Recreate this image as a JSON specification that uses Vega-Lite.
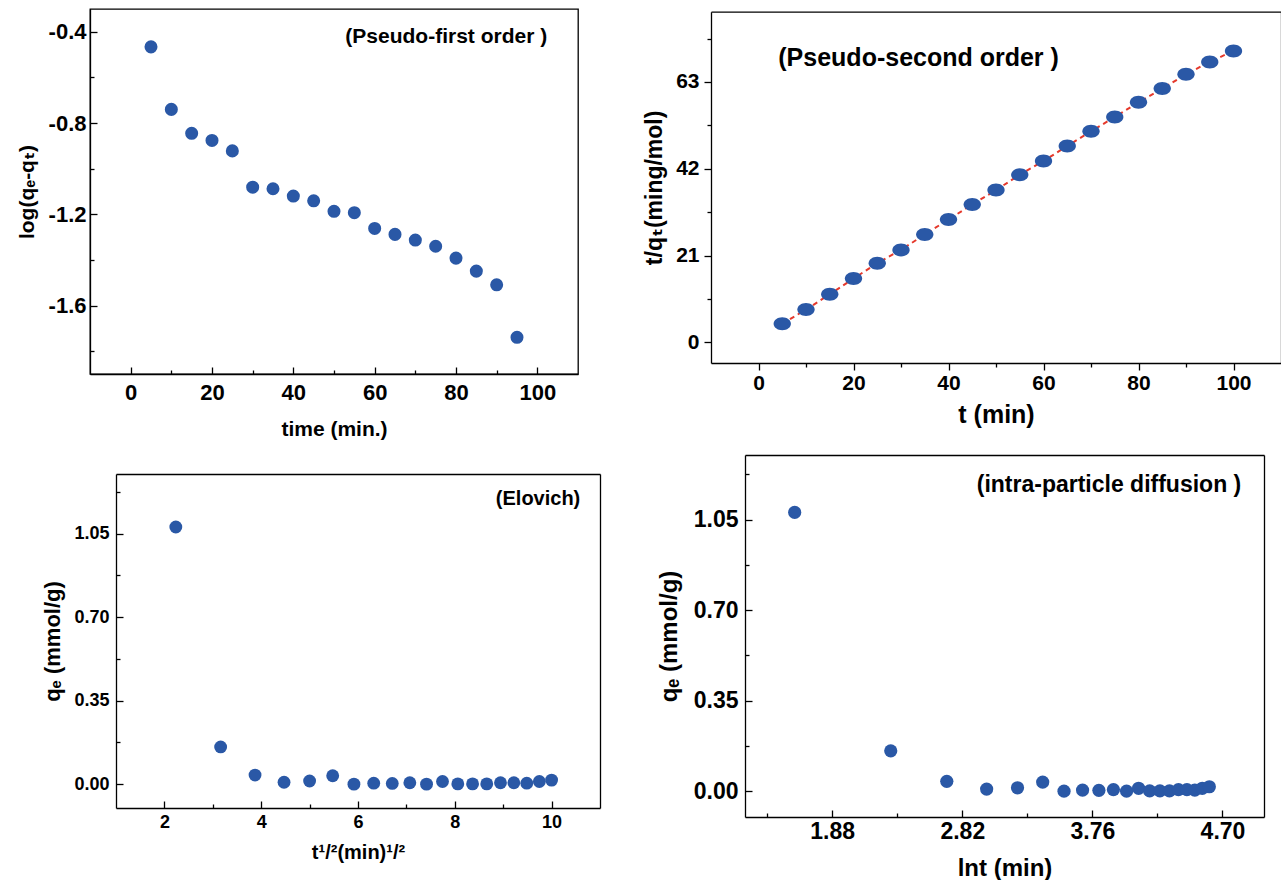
{
  "$schema": "https://vega.github.io/schema/vega-lite/v6.json",
  "padding": {"left": 0, "top": 8, "right": 0, "bottom": 0},
  "background": "white",
  "columns": 4,
  "align": "each",
  "bounds": "flush",
  "spacing": {"row": 81, "column": 0},
  "datasets": {
    "pfo": [
      {"t": 5, "v": -0.466}, {"t": 10, "v": -0.740}, {"t": 15, "v": -0.845}, {"t": 20, "v": -0.876},
      {"t": 25, "v": -0.922}, {"t": 30, "v": -1.081}, {"t": 35, "v": -1.088}, {"t": 40, "v": -1.120},
      {"t": 45, "v": -1.141}, {"t": 50, "v": -1.187}, {"t": 55, "v": -1.193}, {"t": 60, "v": -1.262},
      {"t": 65, "v": -1.288}, {"t": 70, "v": -1.313}, {"t": 75, "v": -1.340}, {"t": 80, "v": -1.392},
      {"t": 85, "v": -1.449}, {"t": 90, "v": -1.509}, {"t": 95, "v": -1.739}
    ],
    "pso": [
      {"t": 5, "v": 4.52}, {"t": 10, "v": 7.92}, {"t": 15, "v": 11.63}, {"t": 20, "v": 15.43},
      {"t": 25, "v": 19.14}, {"t": 30, "v": 22.37}, {"t": 35, "v": 26.09}, {"t": 40, "v": 29.73},
      {"t": 45, "v": 33.36}, {"t": 50, "v": 36.83}, {"t": 55, "v": 40.55}, {"t": 60, "v": 43.86},
      {"t": 65, "v": 47.50}, {"t": 70, "v": 51.05}, {"t": 75, "v": 54.52}, {"t": 80, "v": 58.08},
      {"t": 85, "v": 61.39}, {"t": 90, "v": 64.86}, {"t": 95, "v": 67.85}, {"t": 100, "v": 70.52}
    ],
    "elo": [
      {"x": 2.236, "q": 1.078}, {"x": 3.162, "q": 0.156}, {"x": 3.873, "q": 0.038}, {"x": 4.472, "q": 0.008},
      {"x": 5.000, "q": 0.013}, {"x": 5.477, "q": 0.035}, {"x": 5.916, "q": 0.000}, {"x": 6.325, "q": 0.004},
      {"x": 6.708, "q": 0.003}, {"x": 7.071, "q": 0.006}, {"x": 7.416, "q": 0.000}, {"x": 7.746, "q": 0.011},
      {"x": 8.062, "q": 0.001}, {"x": 8.367, "q": 0.001}, {"x": 8.660, "q": 0.001}, {"x": 8.944, "q": 0.006},
      {"x": 9.220, "q": 0.006}, {"x": 9.487, "q": 0.004}, {"x": 9.747, "q": 0.011}, {"x": 10.000, "q": 0.017}
    ],
    "ipd": [
      {"x": 1.609, "q": 1.078}, {"x": 2.303, "q": 0.156}, {"x": 2.708, "q": 0.038}, {"x": 2.996, "q": 0.008},
      {"x": 3.219, "q": 0.013}, {"x": 3.401, "q": 0.035}, {"x": 3.555, "q": 0.000}, {"x": 3.689, "q": 0.004},
      {"x": 3.807, "q": 0.003}, {"x": 3.912, "q": 0.006}, {"x": 4.007, "q": 0.000}, {"x": 4.094, "q": 0.011},
      {"x": 4.174, "q": 0.001}, {"x": 4.248, "q": 0.001}, {"x": 4.317, "q": 0.001}, {"x": 4.382, "q": 0.006},
      {"x": 4.443, "q": 0.006}, {"x": 4.500, "q": 0.004}, {"x": 4.554, "q": 0.011}, {"x": 4.605, "q": 0.017}
    ]
  },
  "config": {
    "view": {"stroke": "black", "strokeWidth": 1.3},
    "font": "Liberation Sans, Arial, sans-serif",
    "axis": {
      "grid": false,
      "domainColor": "black",
      "domainWidth": 1.3,
      "tickColor": "black",
      "tickWidth": 1.3,
      "labelFont": "Liberation Sans, Arial, sans-serif",
      "labelFontWeight": "bold",
      "labelColor": "black",
      "labelFlush": false,
      "labelOverlap": false,
      "titleFont": "Liberation Sans, DejaVu Sans, Arial, sans-serif",
      "titleFontWeight": "bold",
      "titleColor": "black"
    },
    "text": {"font": "Liberation Sans, Arial, sans-serif", "fontWeight": "bold", "color": "black"}
  },
  "concat": [
    {"width": 90, "height": 1, "data": {"values": []}, "mark": "point", "view": {"stroke": null}},
    {
      "width": 488,
      "height": 365,
      "layer": [
        {
          "data": {"name": "pfo"},
          "mark": {"type": "point", "filled": true, "opacity": 1, "size": 170, "color": "#2a58a6"},
          "encoding": {
            "x": {
              "field": "t", "type": "quantitative",
              "scale": {"domain": [-10, 110], "nice": false, "zero": false},
              "axis": {
                "title": "time (min.)", "titleFontSize": 21, "titlePadding": 12,
                "values": [0, 10, 20, 30, 40, 50, 60, 70, 80, 90, 100],
                "labelExpr": "datum.value % 20 === 0 ? datum.label : ''",
                "labelFontSize": 22, "labelPadding": 15,
                "tickSize": {"condition": {"test": "datum.value % 20 === 0", "value": -7}, "value": -4}
              }
            },
            "y": {
              "field": "v", "type": "quantitative",
              "scale": {"domain": [-1.9, -0.3], "nice": false, "zero": false},
              "axis": {
                "title": "log(qₑ-qₜ)", "titleFontSize": 21, "titlePadding": 11,
                "values": [-1.8, -1.6, -1.4, -1.2, -1.0, -0.8, -0.6, -0.4],
                "labelExpr": "indexof([-1.6, -1.2, -0.8, -0.4], datum.value) >= 0 ? replace(format(datum.value, '.1f'), '\u2212', '-') : ''",
                "labelFontSize": 22, "labelPadding": 11,
                "tickSize": {"condition": {"test": "indexof([-1.6, -1.2, -0.8, -0.4], datum.value) >= 0", "value": -7}, "value": -4}
              }
            }
          }
        },
        {
          "data": {"values": [{}]},
          "mark": {"type": "text", "fontSize": 21, "align": "center", "baseline": "middle"},
          "encoding": {
            "x": {"datum": 77.6, "type": "quantitative"},
            "y": {"datum": -0.422, "type": "quantitative"},
            "text": {"value": "(Pseudo-first order )"}
          }
        }
      ]
    },
    {"width": 111, "height": 1, "data": {"values": []}, "mark": "point", "view": {"stroke": null}},
    {
      "width": 570,
      "height": 354,
      "view": {"stroke": null},
      "resolve": {"axis": {"x": "independent", "y": "independent"}},
      "layer": [
        {
          "data": {"name": "pso"},
          "mark": {"type": "line", "color": "#e5392c", "strokeWidth": 2, "strokeDash": [5, 4]},
          "encoding": {
            "x": {
              "field": "t", "type": "quantitative",
              "scale": {"domain": [-10, 110], "nice": false, "zero": false},
              "axis": {
                "title": "t (min)", "titleFontSize": 25, "titlePadding": 9,
                "values": [0, 10, 20, 30, 40, 50, 60, 70, 80, 90, 100],
                "labelExpr": "datum.value % 20 === 0 ? datum.label : ''",
                "labelFontSize": 21, "labelPadding": 2,
                "tickSize": {"condition": {"test": "datum.value % 20 === 0", "value": 7}, "value": 4}
              }
            },
            "y": {
              "field": "v", "type": "quantitative",
              "scale": {"domain": [-5, 80], "range": [354, 2.7], "nice": false, "zero": false},
              "axis": {
                "title": "t/qₜ(ming/mol)", "titleFontSize": 23, "titlePadding": 9,
                "values": [0, 10.5, 21, 31.5, 42, 52.5, 63, 73.5],
                "labelExpr": "indexof([0, 21, 42, 63], datum.value) >= 0 ? datum.label : ''",
                "labelFontSize": 21, "labelPadding": 5,
                "tickSize": {"condition": {"test": "indexof([0, 21, 42, 63], datum.value) >= 0", "value": 7}, "value": 4}
              }
            }
          }
        },
        {
          "data": {"name": "pso"},
          "mark": {"type": "point", "filled": true, "opacity": 1, "size": 300, "color": "#2a58a6",
                   "shape": "M-1,0A1,0.75 0 1,0 1,0A1,0.75 0 1,0 -1,0Z"},
          "encoding": {
            "x": {"field": "t", "type": "quantitative", "axis": {"orient": "top", "offset": -2.7, "labels": false, "ticks": false, "title": null}},
            "y": {"field": "v", "type": "quantitative", "axis": {"orient": "right", "labels": false, "ticks": false, "title": null}}
          }
        },
        {
          "data": {"values": [{}]},
          "mark": {"type": "text", "fontSize": 25, "align": "center", "baseline": "middle"},
          "encoding": {
            "x": {"datum": 33.7, "type": "quantitative", "axis": null},
            "y": {"datum": 68.8, "type": "quantitative", "axis": null},
            "text": {"value": "(Pseudo-second order )"}
          }
        }
      ]
    },
    {"width": 90, "height": 1, "data": {"values": []}, "mark": "point", "view": {"stroke": null}},
    {
      "width": 510,
      "height": 353,
      "view": {"stroke": null},
      "resolve": {"axis": {"x": "independent", "y": "independent"}},
      "layer": [
        {
          "data": {"name": "elo"},
          "mark": {"type": "point", "filled": true, "opacity": 1, "size": 165, "color": "#2a58a6"},
          "encoding": {
            "x": {
              "field": "x", "type": "quantitative",
              "scale": {"domain": [1, 11], "range": [26, 510], "nice": false, "zero": false},
              "axis": {
                "title": "t¹/²(min)¹/²", "titleFontSize": 20, "titlePadding": 8,
                "values": [2, 3, 4, 5, 6, 7, 8, 9, 10],
                "labelExpr": "datum.value % 2 === 0 ? datum.label : ''",
                "labelFontSize": 18, "labelPadding": 12,
                "tickSize": {"condition": {"test": "datum.value % 2 === 0", "value": -7}, "value": -4}
              }
            },
            "y": {
              "field": "q", "type": "quantitative",
              "scale": {"domain": [-0.1, 1.3], "range": [353, 19], "nice": false, "zero": false},
              "axis": {
                "title": "qₑ (mmol/g)", "titleFontSize": 22, "titlePadding": 9, "offset": -26,
                "values": [0, 0.175, 0.35, 0.525, 0.7, 0.875, 1.05, 1.225],
                "labelExpr": "indexof([0, 0.35, 0.7, 1.05], datum.value) >= 0 ? format(datum.value, '.2f') : ''",
                "labelFontSize": 18, "labelPadding": 14,
                "tickSize": {"condition": {"test": "indexof([0, 0.35, 0.7, 1.05], datum.value) >= 0", "value": -7}, "value": -4}
              }
            }
          }
        },
        {
          "data": {"values": [{}]},
          "mark": {"type": "text", "fontSize": 20, "align": "center", "baseline": "middle"},
          "encoding": {
            "x": {"datum": 9.72, "type": "quantitative", "axis": {"orient": "top", "offset": -19, "labels": false, "ticks": false, "title": null}},
            "y": {"datum": 1.197, "type": "quantitative", "axis": {"orient": "right", "labels": false, "ticks": false, "title": null}},
            "text": {"value": "(Elovich)"}
          }
        }
      ]
    },
    {"width": 111, "height": 1, "data": {"values": []}, "mark": "point", "view": {"stroke": null}},
    {
      "width": 553,
      "height": 362,
      "view": {"stroke": null},
      "resolve": {"axis": {"x": "independent", "y": "independent"}},
      "layer": [
        {
          "data": {"name": "ipd"},
          "mark": {"type": "point", "filled": true, "opacity": 1, "size": 175, "color": "#2a58a6"},
          "encoding": {
            "x": {
              "field": "x", "type": "quantitative",
              "scale": {"domain": [1.25, 5.0], "range": [34, 553], "nice": false, "zero": false},
              "axis": {
                "title": "lnt (min)", "titleFontSize": 24, "titlePadding": 10,
                "values": [1.41, 1.88, 2.35, 2.82, 3.29, 3.76, 4.23, 4.70],
                "labelExpr": "indexof([1.88, 2.82, 3.76, 4.7], datum.value) >= 0 ? format(datum.value, '.2f') : ''",
                "labelFontSize": 23, "labelPadding": 10,
                "tickSize": {"condition": {"test": "indexof([1.88, 2.82, 3.76, 4.7], datum.value) >= 0", "value": -7}, "value": -4}
              }
            },
            "y": {
              "field": "q", "type": "quantitative",
              "scale": {"domain": [-0.1, 1.3], "nice": false, "zero": false},
              "axis": {
                "title": "qₑ (mmol/g)", "titleFontSize": 24, "titlePadding": 12, "offset": -34,
                "values": [0, 0.175, 0.35, 0.525, 0.7, 0.875, 1.05, 1.225],
                "labelExpr": "indexof([0, 0.35, 0.7, 1.05], datum.value) >= 0 ? format(datum.value, '.2f') : ''",
                "labelFontSize": 23, "labelPadding": 14,
                "tickSize": {"condition": {"test": "indexof([0, 0.35, 0.7, 1.05], datum.value) >= 0", "value": -7}, "value": -4}
              }
            }
          }
        },
        {
          "data": {"values": [{}]},
          "mark": {"type": "text", "fontSize": 23, "align": "center", "baseline": "middle"},
          "encoding": {
            "x": {"datum": 3.88, "type": "quantitative", "axis": {"orient": "top", "labels": false, "ticks": false, "title": null}},
            "y": {"datum": 1.185, "type": "quantitative", "axis": {"orient": "right", "labels": false, "ticks": false, "title": null}},
            "text": {"value": "(intra-particle diffusion )"}
          }
        }
      ]
    }
  ]
}
